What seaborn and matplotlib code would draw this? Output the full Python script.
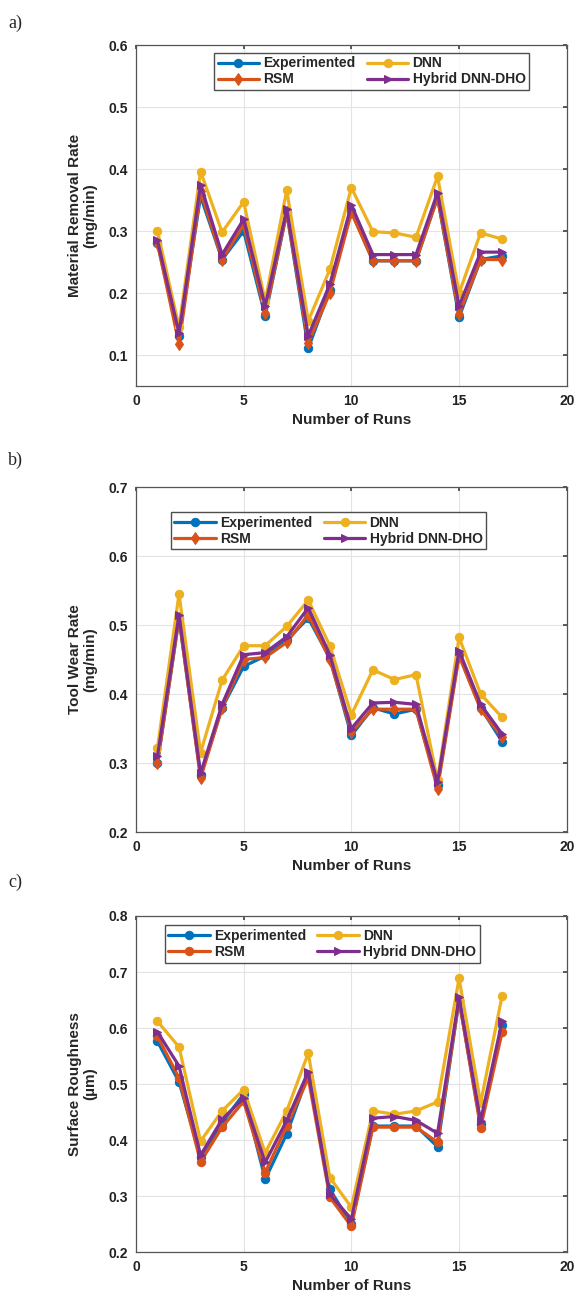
import numpy as np
import pandas as pd
import matplotlib
matplotlib.use("Agg")
import matplotlib.pyplot as plt
import seaborn as sns

runs = list(range(1, 18))

# Panel a: Material Removal Rate (mg/min)
mrr_exp = [0.280, 0.130, 0.356, 0.254, 0.300, 0.163, 0.330, 0.111, 0.205, 0.332, 0.252, 0.252, 0.252, 0.354, 0.161, 0.254, 0.260]
mrr_rsm = [0.280, 0.118, 0.364, 0.254, 0.310, 0.167, 0.330, 0.120, 0.200, 0.330, 0.252, 0.252, 0.252, 0.354, 0.166, 0.254, 0.254]
mrr_dnn = [0.300, 0.145, 0.396, 0.298, 0.347, 0.187, 0.366, 0.155, 0.238, 0.370, 0.299, 0.297, 0.290, 0.388, 0.200, 0.297, 0.287]
mrr_hyb = [0.285, 0.135, 0.375, 0.262, 0.319, 0.179, 0.335, 0.131, 0.214, 0.342, 0.262, 0.262, 0.262, 0.362, 0.179, 0.266, 0.266]

# Panel b: Tool Wear Rate (mg/min)
twr_exp = [0.300, 0.510, 0.282, 0.380, 0.440, 0.455, 0.478, 0.510, 0.452, 0.340, 0.380, 0.371, 0.378, 0.268, 0.458, 0.380, 0.331]
twr_rsm = [0.300, 0.510, 0.278, 0.380, 0.450, 0.453, 0.475, 0.515, 0.450, 0.345, 0.378, 0.378, 0.378, 0.263, 0.455, 0.378, 0.337]
twr_dnn = [0.322, 0.545, 0.315, 0.420, 0.470, 0.470, 0.498, 0.536, 0.470, 0.370, 0.435, 0.421, 0.428, 0.275, 0.482, 0.400, 0.366]
twr_hyb = [0.310, 0.515, 0.285, 0.385, 0.457, 0.460, 0.483, 0.525, 0.457, 0.350, 0.387, 0.388, 0.385, 0.272, 0.463, 0.385, 0.342]

# Panel c: Surface Roughness (um)
sr_exp = [0.576, 0.504, 0.369, 0.431, 0.482, 0.330, 0.411, 0.517, 0.312, 0.250, 0.425, 0.425, 0.425, 0.388, 0.650, 0.428, 0.606]
sr_rsm = [0.585, 0.511, 0.361, 0.423, 0.469, 0.342, 0.425, 0.511, 0.298, 0.246, 0.423, 0.423, 0.423, 0.396, 0.650, 0.422, 0.593]
sr_dnn = [0.612, 0.566, 0.398, 0.452, 0.490, 0.377, 0.452, 0.555, 0.333, 0.280, 0.452, 0.446, 0.452, 0.468, 0.689, 0.466, 0.658]
sr_hyb = [0.593, 0.532, 0.373, 0.437, 0.475, 0.360, 0.435, 0.522, 0.303, 0.259, 0.439, 0.442, 0.435, 0.412, 0.655, 0.434, 0.613]

series_names = ["Experimented", "RSM", "DNN", "Hybrid DNN-DHO"]
colors = ["#0072BD", "#D95319", "#EDB120", "#7E2F8E"]

panels = [
    ("a)", "Material Removal Rate\n(mg/min)", [mrr_exp, mrr_rsm, mrr_dnn, mrr_hyb], (0.05, 0.6), [0.1, 0.2, 0.3, 0.4, 0.5, 0.6], ["o", "d", "o", ">"]),
    ("b)", "Tool Wear Rate\n(mg/min)", [twr_exp, twr_rsm, twr_dnn, twr_hyb], (0.2, 0.7), [0.2, 0.3, 0.4, 0.5, 0.6, 0.7], ["o", "d", "o", ">"]),
    ("c)", "Surface Roughness\n(µm)", [sr_exp, sr_rsm, sr_dnn, sr_hyb], (0.2, 0.8), [0.2, 0.3, 0.4, 0.5, 0.6, 0.7, 0.8], ["o", "o", "o", ">"]),
]

sns.set_theme(style="white")
plt.rcParams['font.family'] = ['Liberation Sans', 'DejaVu Sans']

fig = plt.figure(figsize=(5.76, 12.98), dpi=100)
left, right = 0.236, 0.984
boxes = [(0.7026, 0.9653), (0.359, 0.6248), (0.0354, 0.2943)]
legend_anchor = [(0.175, 0.985), (0.075, 0.935), (0.06, 0.98)]
label_y = [0.982, 0.645, 0.320]

for i, (tag, ylabel, data, ylim, yticks, markers) in enumerate(panels):
    b, t = boxes[i]
    ax = fig.add_axes([left, b, right - left, t - b])
    for name, vals, col, mk in zip(series_names, data, colors, markers):
        df = pd.DataFrame({"run": runs, "value": vals})
        sns.lineplot(data=df, x="run", y="value", ax=ax, color=col, marker=mk,
                     markersize=6, markeredgecolor=col, linewidth=2.3, label=name)
    ax.set_xlim(0, 20)
    ax.set_ylim(*ylim)
    ax.set_xticks([0, 5, 10, 15, 20])
    ax.set_yticks(yticks)
    ax.set_xticklabels([str(v) for v in [0, 5, 10, 15, 20]], fontweight="bold", fontsize=10, color="#222222")
    ax.set_yticklabels([f"{v:.1f}" for v in yticks], fontweight="bold", fontsize=10, color="#222222")
    ax.grid(True, color="#e3e3e3", linewidth=0.8)
    ax.tick_params(direction="in", length=3, top=True, right=True, color="#444444", pad=6)
    for s in ax.spines.values():
        s.set_color("#555555")
        s.set_linewidth(0.9)
    ax.set_xlabel("Number of Runs", fontweight="bold", fontsize=11, labelpad=3)
    ax.set_ylabel(ylabel, fontweight="bold", fontsize=11, labelpad=8, linespacing=1.1)
    leg = ax.legend(loc="upper left", bbox_to_anchor=legend_anchor[i], ncol=2,
                    prop={"weight": "bold", "size": 10}, frameon=True, fancybox=False,
                    handlelength=3.0, handletextpad=0.3, columnspacing=0.8,
                    labelspacing=0.15, borderpad=0.25, borderaxespad=0.2)
    leg.get_frame().set_edgecolor("#222222")
    leg.get_frame().set_linewidth(1.0)
    fig.text(0.014, label_y[i], tag, fontsize=13, family=["Liberation Serif"], va="center")

fig.savefig("out.png", dpi=100)
